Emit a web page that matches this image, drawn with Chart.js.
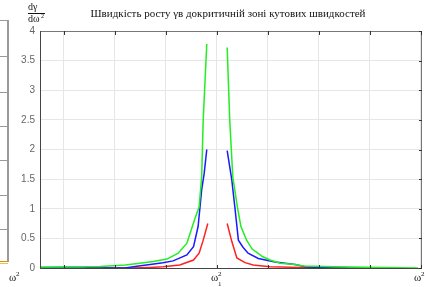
<!DOCTYPE html>
<html>
<head>
<meta charset="utf-8">
<script src="https://cdn.jsdelivr.net/npm/chart.js@4.4.1/dist/chart.umd.min.js"></script>
<style>
  html, body { margin: 0; padding: 0; background: #fff; }
  #wrap { width: 425px; height: 287px; }
</style>
</head>
<body>
<div id="wrap"><canvas id="chart" width="425" height="287"></canvas></div>
<script>
const title = "Швидкість росту γв докритичній зоні кутових швидкостей";
const yTicks = [0, 0.5, 1, 1.5, 2, 2.5, 3, 3.5, 4];
const xGrid = [-3, -2, -1, 0, 1, 2, 3, 4];

// green curve (left branch, gap, right branch)
const greenX = [-3.47, -2.29, -1.80, -1.51, -1.25, -0.98, -0.76, -0.59, -0.43, -0.35, -0.30, -0.27, -0.20,
  0,
  0.20, 0.25, 0.31, 0.40, 0.47, 0.58, 0.69, 0.80, 0.90, 1.04, 1.24, 1.53, 1.69, 2.31, 3.59, 3.94];
const greenY = [0.015, 0.025, 0.05, 0.08, 0.11, 0.15, 0.25, 0.42, 0.84, 1.03, 1.54, 2.5, 3.78,
  null,
  3.72, 2.5, 1.54, 1.03, 0.7, 0.47, 0.32, 0.25, 0.19, 0.135, 0.08, 0.06, 0.035, 0.02, 0.005, 0];

// blue curve
const blueX = [-3.47, -1.80, -1.57, -1.31, -1.06, -0.86, -0.59, -0.46, -0.37, -0.30, -0.25, -0.20,
  0,
  0.20, 0.29, 0.35, 0.42, 0.51, 0.61, 0.81, 1.14, 1.53, 1.73, 2.22, 3.59];
const blueY = [0, 0, 0.03, 0.06, 0.09, 0.12, 0.22, 0.36, 0.70, 1.32, 1.6, 2.0,
  null,
  1.98, 1.49, 1.03, 0.47, 0.35, 0.25, 0.16, 0.10, 0.06, 0.02, 0.005, 0];

// red curve
const redX = [-2.59, -1.67, -1.31, -1.06, -0.73, -0.46, -0.35, -0.27, -0.18,
  0,
  0.20, 0.29, 0.39, 0.55, 0.71, 1.04, 1.63, 2.55];
const redY = [0, 0, 0.01, 0.02, 0.05, 0.135, 0.25, 0.47, 0.75,
  null,
  0.75, 0.45, 0.17, 0.09, 0.05, 0.02, 0.01, 0];

const toPoints = (xs, ys) => xs.map((x, i) => ({ x: x, y: ys[i] }));

const mkSet = (label, xs, ys, color) => ({
  label: label,
  data: toPoints(xs, ys),
  borderColor: color,
  borderWidth: 1.5,
  pointRadius: 0,
  tension: 0,
  spanGaps: false,
  fill: false,
});

// frame, inner ticks, labels, and the bit of the neighbouring chart on the left
const decor = {
  id: "decor",
  afterDraw(chart) {
    const ctx = chart.ctx;
    const a = chart.chartArea;
    const xs = chart.scales.x;
    const ys = chart.scales.y;
    ctx.save();

    // neighbouring chart fragment
    ctx.strokeStyle = "#9a9a9a";
    ctx.lineWidth = 2;
    ctx.beginPath();
    ctx.moveTo(8, 20);
    ctx.lineTo(8, 262);
    ctx.stroke();
    ctx.lineWidth = 1;
    [20, 56, 92, 126, 160, 195, 229].forEach((y) => {
      ctx.beginPath();
      ctx.moveTo(0, y + 0.5);
      ctx.lineTo(8, y + 0.5);
      ctx.stroke();
    });
    ctx.strokeStyle = "#e08a1e";
    ctx.beginPath();
    ctx.moveTo(0, 261.5);
    ctx.lineTo(8, 261.5);
    ctx.stroke();
    ctx.strokeStyle = "#e8c640";
    ctx.beginPath();
    ctx.moveTo(0, 263.5);
    ctx.lineTo(8, 263.5);
    ctx.stroke();

    // frame
    ctx.strokeStyle = "#777";
    ctx.lineWidth = 1;
    ctx.strokeRect(a.left + 0.5, a.top + 0.5, a.right - a.left - 1, a.bottom - a.top);
    ctx.strokeStyle = "#444";
    ctx.beginPath();
    ctx.moveTo(a.left + 0.5, a.top);
    ctx.lineTo(a.left + 0.5, a.bottom + 0.5);
    ctx.lineTo(a.right, a.bottom + 0.5);
    ctx.stroke();

    // inner tick marks
    ctx.strokeStyle = "#333";
    xGrid.forEach((v) => {
      const px = Math.round(xs.getPixelForValue(v)) + 0.5;
      ctx.beginPath();
      ctx.moveTo(px, a.top);
      ctx.lineTo(px, a.top + 4);
      ctx.moveTo(px, a.bottom);
      ctx.lineTo(px, a.bottom - 3);
      ctx.stroke();
    });
    yTicks.forEach((v) => {
      const py = Math.round(ys.getPixelForValue(v)) + 0.5;
      ctx.beginPath();
      ctx.moveTo(a.right, py);
      ctx.lineTo(a.right - 3, py);
      ctx.stroke();
    });

    // title
    ctx.fillStyle = "#111";
    ctx.font = "11px 'Liberation Serif', serif";
    ctx.textAlign = "center";
    ctx.textBaseline = "middle";
    ctx.fillText(title, 228, 14);

    // y axis label dγ / dω²
    ctx.font = "10px 'Liberation Serif', serif";
    ctx.textAlign = "left";
    ctx.fillText("dγ", 28, 7);
    ctx.fillText("dω", 28, 19);
    ctx.font = "6px 'Liberation Serif', serif";
    ctx.fillText("2", 41, 16);
    ctx.strokeStyle = "#111";
    ctx.beginPath();
    ctx.moveTo(28, 13.5);
    ctx.lineTo(45, 13.5);
    ctx.stroke();

    // x labels
    const omega = (x, sub) => {
      ctx.font = "11px 'Liberation Serif', serif";
      ctx.textAlign = "left";
      ctx.fillText("ω", x, 278);
      ctx.font = "7px 'Liberation Serif', serif";
      ctx.fillText("2", x + 7, 274);
      if (sub) ctx.fillText(sub, x + 7, 284);
    };
    omega(9, "");
    omega(Math.round(xs.getPixelForValue(0)) - 6, "1");
    omega(414, "");
    ctx.restore();
  },
};

new Chart(document.getElementById("chart"), {
  type: "line",
  data: {
    datasets: [
      mkSet("c", greenX, greenY, "#22ee22"),
      mkSet("b", blueX, blueY, "#1a1aff"),
      mkSet("a", redX, redY, "#ff2020"),
    ],
  },
  options: {
    responsive: false,
    animation: false,
    layout: { padding: { top: 31, right: 3, left: 0, bottom: 0 } },
    plugins: { legend: { display: false }, tooltip: { enabled: false } },
    scales: {
      x: {
        type: "linear",
        min: -3.47,
        max: 4.02,
        afterBuildTicks: (s) => { s.ticks = xGrid.map((v) => ({ value: v })); },
        afterFit: (s) => { s.height = 19; },
        ticks: { display: false },
        grid: { color: "#e6e6e6", drawTicks: false },
        border: { display: false },
      },
      y: {
        min: 0,
        max: 4,
        afterBuildTicks: (s) => { s.ticks = yTicks.map((v) => ({ value: v })); },
        afterFit: (s) => { s.width = 40; },
        ticks: {
          color: "#666",
          font: { family: "'Liberation Sans', sans-serif", size: 10 },
          padding: 5,
          callback: (v) => String(v),
        },
        grid: { color: "#e6e6e6", drawTicks: false },
        border: { display: false },
      },
    },
  },
  plugins: [decor],
});
</script>
</body>
</html>
